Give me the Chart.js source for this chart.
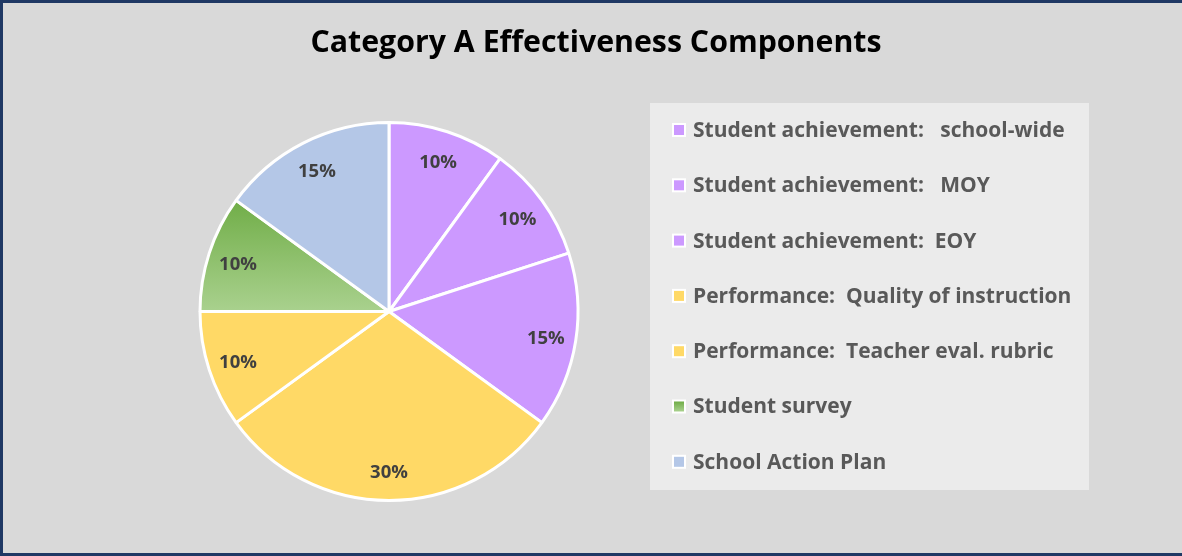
<!DOCTYPE html>
<html><head><meta charset="utf-8">
<script src="https://cdn.jsdelivr.net/npm/chart.js@4/dist/chart.umd.min.js"></script>
<style>
html,body{margin:0;padding:0;background:#D9D9D9;overflow:hidden;}
#wrap{position:relative;width:1182px;height:556px;}
#c{position:absolute;left:0;top:0;}
#frame{position:absolute;left:0;top:0;width:1182px;height:556px;box-sizing:border-box;border-left:3px solid #1F3864;border-top:3px solid #1F3864;border-bottom:3px solid #1F3864;pointer-events:none;}
</style>
</head><body>
<div id="wrap"><canvas id="c" width="1182" height="556"></canvas><div id="frame"></div></div>
<script>
const chartTitle = 'Category A Effectiveness Components';
const categories = [
  'Student achievement:   school-wide',
  'Student achievement:   MOY',
  'Student achievement:  EOY',
  'Performance:  Quality of instruction',
  'Performance:  Teacher eval. rubric',
  'Student survey',
  'School Action Plan'
];
const values = [10, 10, 15, 30, 10, 10, 15];
const sliceColors = ['#CC99FF', '#CC99FF', '#CC99FF', '#FFD966', '#FFD966', 'gradient', '#B4C7E7'];
const greenTop = '#70AD47';
const greenBottom = '#A9D18E';

const FONT = '"Open Sans", "Liberation Sans", sans-serif';

function greenGradient(ctx, y0, y1) {
  const g = ctx.createLinearGradient(0, y0, 0, y1);
  g.addColorStop(0, greenTop);
  g.addColorStop(1, greenBottom);
  return g;
}

const decorPlugin = {
  id: 'decor',
  beforeDraw(chart) {
    const ctx = chart.ctx;
    ctx.save();
    ctx.fillStyle = '#EBEBEB';
    ctx.fillRect(650, 103, 439, 387);
    ctx.fillStyle = '#000000';
    ctx.font = 'bold 30.3px ' + FONT;
    ctx.textAlign = 'center';
    ctx.textBaseline = 'middle';
    ctx.fillText(chartTitle, 596, 43);
    ctx.restore();
  },
  afterDraw(chart) {
    const ctx = chart.ctx;
    ctx.save();
    const x0 = 672, yStart = 130, step = 55.3;
    categories.forEach((name, i) => {
      const y = yStart + i * step;
      ctx.fillStyle = '#FFFFFF';
      ctx.fillRect(x0, y - 7, 14, 14);
      let fill = sliceColors[i];
      if (fill === 'gradient') fill = greenGradient(ctx, y - 5, y + 5);
      ctx.fillStyle = fill;
      ctx.fillRect(x0 + 2, y - 5, 10, 10);
      ctx.fillStyle = '#595959';
      ctx.font = 'bold 21px ' + FONT;
      ctx.textBaseline = 'middle';
      ctx.textAlign = 'left';
      ctx.fillText(name, 693, y + 1);
    });
    ctx.restore();
  }
};

const sliceLabelPlugin = {
  id: 'sliceLabels',
  afterDatasetsDraw(chart) {
    const ctx = chart.ctx;
    const meta = chart.getDatasetMeta(0);
    ctx.save();
    ctx.fillStyle = '#404040';
    ctx.font = 'bold 18.5px ' + FONT;
    ctx.textAlign = 'center';
    ctx.textBaseline = 'middle';
    meta.data.forEach((arc, i) => {
      const mid = (arc.startAngle + arc.endAngle) / 2;
      const r = arc.outerRadius * 0.84;
      ctx.fillText(values[i] + '%', arc.x + Math.cos(mid) * r, arc.y + Math.sin(mid) * r + 2);
    });
    ctx.restore();
  }
};

new Chart(document.getElementById('c'), {
  type: 'pie',
  data: {
    labels: categories,
    datasets: [{
      data: values,
      backgroundColor: (c) => {
        const col = sliceColors[c.dataIndex];
        if (col !== 'gradient') return col;
        const ca = c.chart.chartArea;
        if (!ca) return greenTop;
        const cy = (ca.top + ca.bottom) / 2;
        const r = Math.min(ca.right - ca.left, ca.bottom - ca.top) / 2;
        return greenGradient(c.chart.ctx, cy - 0.59 * r, cy);
      },
      borderColor: '#FFFFFF',
      borderWidth: 3,
      hoverOffset: 0
    }]
  },
  options: {
    responsive: false,
    devicePixelRatio: 1,
    animation: false,
    events: [],
    layout: { padding: { left: 10, right: 414, top: 121, bottom: 54 } },
    plugins: {
      legend: { display: false },
      tooltip: { enabled: false },
      title: { display: false }
    }
  },
  plugins: [decorPlugin, sliceLabelPlugin]
});
</script>
</body></html>
